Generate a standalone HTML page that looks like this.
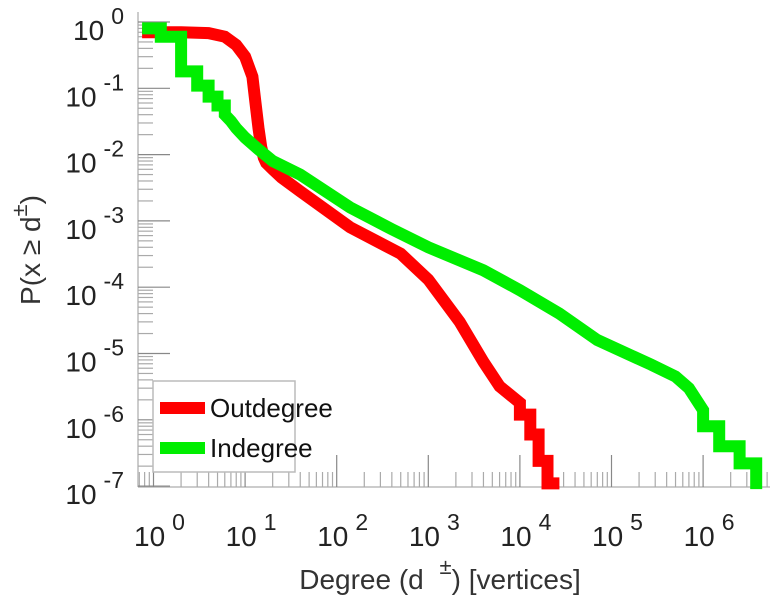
<!DOCTYPE html>
<html><head><meta charset="utf-8"><style>
body{margin:0;background:#fff}
svg{display:block;font-family:"Liberation Sans",sans-serif}
</style></head><body>
<svg id="chart" width="772" height="600">
<g id="axes"></g><g id="series"></g>
<g>
<rect x="153" y="381" width="142" height="91" fill="#fff" stroke="#bbb" stroke-width="1.5"/>
<line x1="160" y1="408" x2="205" y2="408" stroke="#f00" stroke-width="12"/>
<text x="210" y="417" font-size="26" fill="#111">Outdegree</text>
<line x1="160" y1="448" x2="205" y2="448" stroke="#0e0" stroke-width="12"/>
<text x="210" y="457" font-size="26" fill="#111">Indegree</text>
</g>
<text x="440" y="589" font-size="28" fill="#333" text-anchor="middle">Degree (d <tspan dx="8" dy="-15" font-size="22">±</tspan><tspan dy="15">) [vertices]</tspan></text>
<text transform="translate(40,250) rotate(-90)" font-size="28" fill="#333" text-anchor="middle">P(x ≥ d<tspan dy="-13" font-size="22">±</tspan><tspan dy="13">)</tspan></text>
</svg>
<script>
const xTicks=[0,1,2,3,4,5,6];
const yTicks=[0,-1,-2,-3,-4,-5,-6,-7];
const outDeg=[0.75,2,4,6,8,10,12,13,14,15,16,17,20,25,40,70,140,500,1000,2200,4000,6000,10000,10000,13000,13000,16000,16000,20000,20000,27000];
const outP=[0.7,0.7,0.68,0.6,0.45,0.3,0.15,0.06,0.025,0.013,0.009,0.0075,0.006,0.0045,0.0028,0.0016,0.0008,0.00032,0.00013,0.00003,0.0000075,0.0000032,0.0000018,0.0000012,0.0000012,0.0000006,0.0000006,0.00000024,0.00000024,0.00000011,0.00000011];
const inDeg=[0.75,1.2,1.2,2,2,3,3,4,4,5,5,6,6,7,8,10,14,20,40,140,400,1000,4000,10000,27000,70000,270000,500000,700000,1000000,1000000,1500000,1500000,2500000,2500000,3800000,3800000];
const inP=[0.8,0.8,0.6,0.6,0.18,0.18,0.11,0.11,0.075,0.075,0.055,0.055,0.04,0.032,0.025,0.018,0.012,0.008,0.005,0.0016,0.00075,0.0004,0.00018,0.00009,0.00004,0.000016,0.0000068,0.0000045,0.000003,0.0000014,0.0000008,0.0000008,0.0000004,0.0000004,0.00000022,0.00000022,0.00000009];
const NS="http://www.w3.org/2000/svg";
const X=d=>153.5+91.6*Math.log10(d);
const Y=p=>22-66.3*Math.log10(p);
const L=138,R=770,B=487,T=12;
const ax=document.getElementById('axes'),se=document.getElementById('series');
function mk(t,a,p){const e=document.createElementNS(NS,t);for(const k in a)e.setAttribute(k,a[k]);p.appendChild(e);return e;}
const spineX=mk('line',{x1:L,y1:T,x2:L,y2:B,stroke:'#bbb','stroke-width':1.5},ax);


const spineY=mk('line',{x1:L,y1:B,x2:R,y2:B,stroke:'#bbb','stroke-width':1.5},ax);


for(let e=-1;e<=6;e++){for(let m=1;m<10;m++){const x=X(m*Math.pow(10,e));if(x<L||x>R)continue;
 const t=mk('line',{x1:x,y1:B,x2:x,y2:B-(m==1?32:15),stroke:m==1?'#888':'#aaa','stroke-width':1.2},ax);
 
 }}
for(let e=-8;e<=0;e++){for(let m=1;m<10;m++){const y=Y(m*Math.pow(10,e));if(y<T||y>B)continue;
 const t=mk('line',{x1:L,y1:y,x2:L+(m==1?32:15),y2:y,stroke:m==1?'#888':'#aaa','stroke-width':1.2},ax);
 
 }}
xTicks.forEach(k=>{const t=mk('text',{x:X(Math.pow(10,k))+6,y:546,'font-size':28,fill:'#222','text-anchor':'middle'},ax);
 t.innerHTML='10<tspan dx="7" dy="-16" font-size="23">'+k+'</tspan>';
 
 });
yTicks.forEach(k=>{const t=mk('text',{x:124,y:Y(Math.pow(10,k))+18,'font-size':28,fill:'#222','text-anchor':'end'},ax);
 t.innerHTML='10<tspan dx="7" dy="-16" font-size="23">'+(k<0?'-'+(-k):k)+'</tspan>';
 
 });
function draw(ds,ps,col,name){const pts=ds.map((d,i)=>X(d).toFixed(1)+','+Y(ps[i]).toFixed(1)).join(' ');
 const l=mk('polyline',{points:pts,fill:'none',stroke:col,'stroke-width':12,'stroke-linejoin':'miter','stroke-miterlimit':2},se);
 
 }
draw(outDeg,outP,'#f00','outdegree-line');
draw(inDeg,inP,'#0e0','indegree-line');
</script>
</body></html>
